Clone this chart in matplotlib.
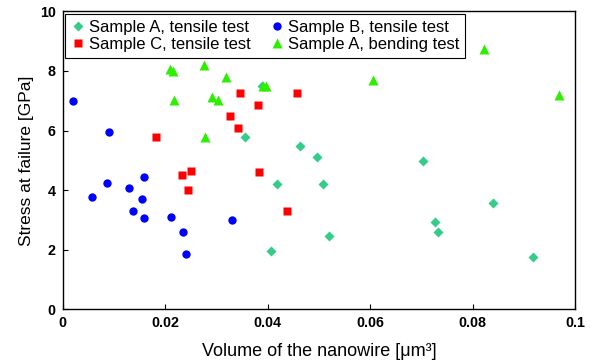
import numpy as np
import matplotlib.pyplot as plt

plt.rcParams['font.family'] = ['Liberation Sans', 'DejaVu Sans']

# Sample A, tensile test
a_ten_x = [0.0356, 0.0463, 0.0497, 0.0703, 0.0419, 0.0508, 0.0407, 0.0520,
           0.0727, 0.0733, 0.0840, 0.0918, 0.0389]
a_ten_y = [5.78, 5.48, 5.11, 4.98, 4.20, 4.20, 1.96, 2.46,
           2.93, 2.60, 3.57, 1.76, 7.50]

# Sample B, tensile test
b_ten_x = [0.0020, 0.0090, 0.0058, 0.0087, 0.0130, 0.0159, 0.0155, 0.0137,
           0.0158, 0.0212, 0.0234, 0.0241, 0.0331]
b_ten_y = [7.00, 5.94, 3.76, 4.25, 4.07, 4.44, 3.69, 3.31,
           3.08, 3.09, 2.61, 1.85, 3.00]

# Sample C, tensile test
c_ten_x = [0.0182, 0.0346, 0.0382, 0.0326, 0.0342, 0.0457, 0.0233, 0.0250,
           0.0383, 0.0244, 0.0437]
c_ten_y = [5.79, 7.26, 6.87, 6.49, 6.08, 7.26, 4.51, 4.65,
           4.60, 4.01, 3.29]

# Sample A, bending test
a_bend_x = [0.0210, 0.0216, 0.0276, 0.0319, 0.0218, 0.0292, 0.0303, 0.0391,
            0.0396, 0.0277, 0.0822, 0.0605, 0.0968]
a_bend_y = [8.08, 7.99, 8.19, 7.78, 7.02, 7.13, 7.02, 7.50,
            7.50, 5.79, 8.72, 7.71, 7.19]

xticks = [0, 0.02, 0.04, 0.06, 0.08, 0.1]
xtick_labels = ['0', '0.02', '0.04', '0.06', '0.08', '0.1']
yticks = [0, 2, 4, 6, 8, 10]

fig = plt.figure(figsize=(5.91, 3.64), dpi=100)
ax = fig.add_axes([0.106, 0.150, 0.867, 0.819])

ax.plot(a_ten_x, a_ten_y, 'D', color='#33cc88', ms=5.0, mec='none',
        label='Sample A, tensile test')
ax.plot(c_ten_x, c_ten_y, 's', color='#ff0000', ms=5.8, mec='none',
        label='Sample C, tensile test')
ax.plot(b_ten_x, b_ten_y, 'o', color='#0000ff', ms=6.0, mec='none',
        label='Sample B, tensile test')
ax.plot(a_bend_x, a_bend_y, '^', color='#2cf000', ms=6.6, mec='none',
        label='Sample A, bending test')

ax.set_xlim(0, 0.1)
ax.set_ylim(0, 10)
ax.set_xticks(xticks)
ax.set_xticklabels(xtick_labels)
ax.set_yticks(yticks)
ax.tick_params(direction='in', length=3.5, width=0.8, labelsize=10.3)
ax.tick_params(axis='x', pad=5)
ax.tick_params(axis='y', pad=5)
for lab in ax.get_xticklabels() + ax.get_yticklabels():
    lab.set_fontweight('bold')
for sp in ax.spines.values():
    sp.set_linewidth(1.0)

ax.set_xlabel('Volume of the nanowire [\u03bcm\u00b3]', fontsize=13, labelpad=9)
ax.set_ylabel('Stress at failure [GPa]', fontsize=12.5, labelpad=4)

leg = ax.legend(loc='upper left', ncol=2, fontsize=12, frameon=True,
                fancybox=False, framealpha=1, edgecolor='black',
                borderaxespad=0.15, handlelength=0.88, handletextpad=0.2,
                columnspacing=1.15, labelspacing=0.15, borderpad=0.35)
leg.get_frame().set_linewidth(0.8)

fig.savefig('out.png', dpi=100)
